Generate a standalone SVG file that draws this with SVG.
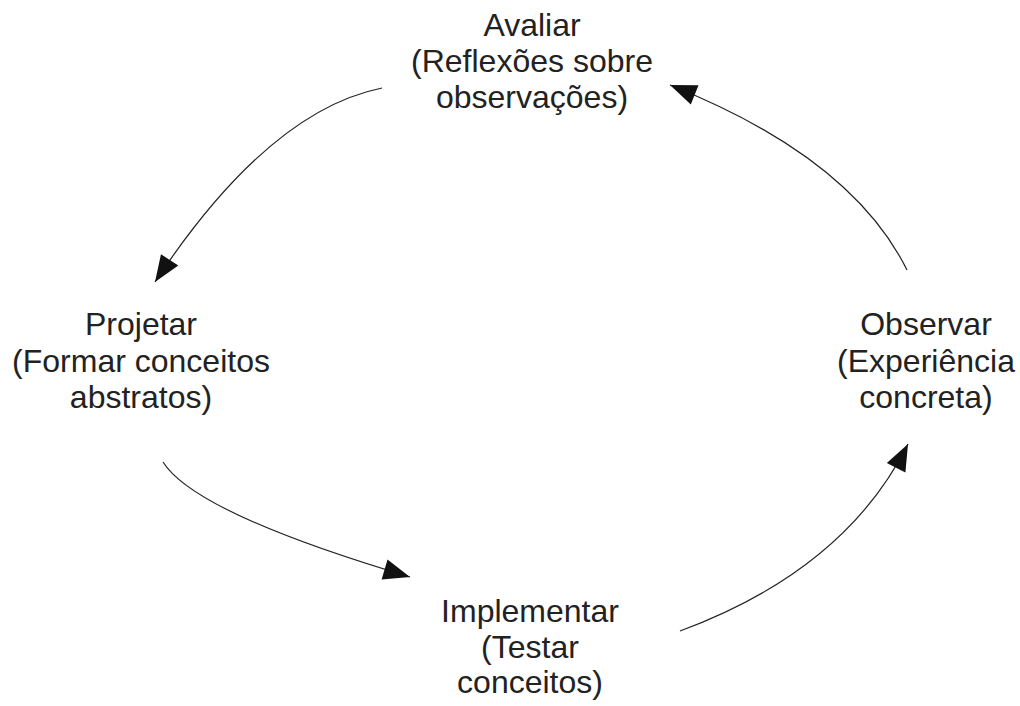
<svg xmlns="http://www.w3.org/2000/svg" width="1020" height="706" viewBox="0 0 1020 706">
<defs>
<style>
.t{font-family:"Liberation Sans",Arial,sans-serif;font-size:32px;fill:#222;text-anchor:middle}
.c{fill:none;stroke:#222;stroke-width:1.2;marker-end:url(#ah)}
</style>
<marker id="ah" markerUnits="userSpaceOnUse" markerWidth="30" markerHeight="24" viewBox="-24 -10 26 20" refX="0" refY="0" orient="auto">
<path d="M0,0 L-23,-9 L-23,9 Z" fill="#111"/>
</marker>
</defs>
<rect width="1020" height="706" fill="#fff"/>
<g id="connectors">
<path class="c" d="M382,88 Q268,111 155,282"/>
<path class="c" d="M163,462 Q195,513 410,577"/>
<path class="c" d="M680,631 Q845,570 908,444"/>
<path class="c" d="M907,270 Q851,157 670,85"/>
</g>
<g id="avaliar">
<text class="t" x="532" y="36">Avaliar</text>
<text class="t" x="532" y="72">(Reflexões sobre</text>
<text class="t" x="532" y="108">observações)</text>
</g>
<g id="projetar">
<text class="t" x="141" y="335">Projetar</text>
<text class="t" x="141" y="372">(Formar conceitos</text>
<text class="t" x="141" y="408">abstratos)</text>
</g>
<g id="observar">
<text class="t" x="926" y="335">Observar</text>
<text class="t" x="926" y="372">(Experiência</text>
<text class="t" x="926" y="408">concreta)</text>
</g>
<g id="implementar">
<text class="t" x="530" y="622">Implementar</text>
<text class="t" x="530" y="658">(Testar</text>
<text class="t" x="530" y="693">conceitos)</text>
</g>
</svg>
